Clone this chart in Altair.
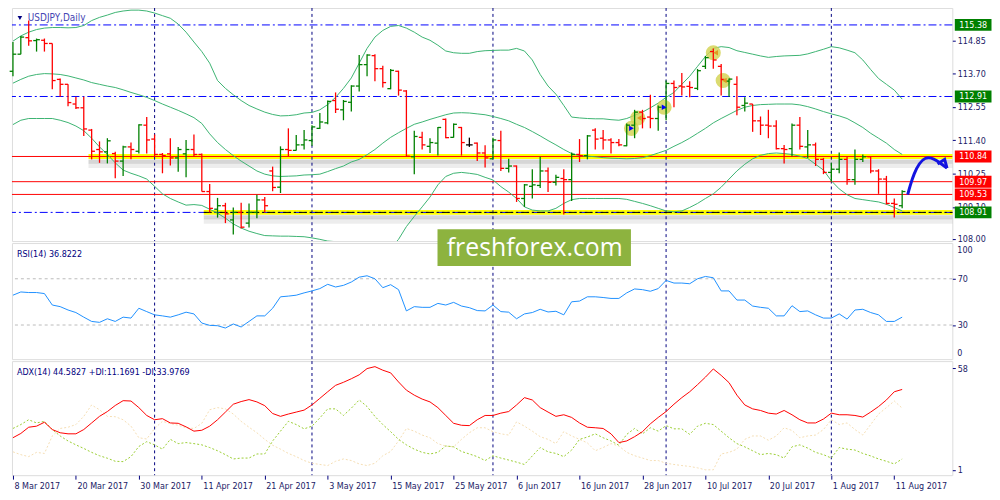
import json
import altair as alt
import pandas as pd

# ---------------- data ----------------
opens = [113.78, 114.37, 114.94, 114.84, 114.85, 114.74, 113.50, 113.33, 112.65, 112.52,
         111.75, 111.08, 111.00, 110.94, 110.68, 111.17, 111.02, 111.92, 111.44, 110.91,
         110.93, 110.79, 110.93, 111.08, 110.91, 109.63, 109.02, 109.14, 108.65, 108.91,
         108.54, 108.91, 109.34, 110.34, 109.78, 111.08, 111.05, 111.24, 111.39, 111.81,
         112.00, 112.77, 112.45, 112.71, 113.27, 114.01, 114.32, 113.87, 113.18, 113.78,
         113.10, 110.83, 111.50, 111.19, 111.30, 112.12, 111.50, 111.84, 111.24, 111.30,
         110.96, 110.76, 111.39, 110.43, 110.51, 109.39, 109.81, 109.84, 110.34, 109.95,
         110.08, 110.04, 110.91, 110.87, 111.75, 111.47, 111.41, 111.32, 111.21, 111.92,
         112.37, 112.20, 112.15, 112.52, 113.36, 113.27, 113.26, 113.19, 113.95, 114.46,
         113.95, 113.44, 113.33, 112.60, 112.65, 112.07, 111.92, 111.89, 111.11, 111.11,
         111.92, 111.17, 111.24, 110.74, 110.29, 110.40, 110.74, 110.04, 110.74, 110.83,
         110.34, 110.06, 109.22, 109.14]
highs = [114.79, 115.00, 115.53, 114.91, 114.91, 114.74, 113.53, 113.33, 112.90, 112.90,
         111.79, 111.36, 111.47, 111.00, 111.21, 111.32, 111.95, 112.20, 111.60, 110.96,
         111.47, 111.17, 111.41, 111.60, 110.94, 109.89, 109.41, 109.24, 109.08, 109.24,
         109.22, 109.52, 109.44, 110.49, 111.19, 111.81, 111.58, 111.75, 111.92, 112.34,
         112.77, 113.05, 112.79, 113.30, 114.34, 114.37, 114.37, 113.97, 113.86, 113.80,
         113.13, 111.73, 111.69, 111.47, 111.86, 112.15, 111.98, 111.86, 111.49, 111.32,
         111.23, 111.49, 111.73, 110.76, 110.53, 109.89, 110.40, 110.83, 110.46, 110.21,
         110.40, 110.98, 111.44, 111.58, 111.81, 111.75, 111.47, 111.44, 111.98, 112.45,
         112.45, 112.97, 112.60, 113.46, 113.46, 113.72, 113.44, 113.86, 114.31, 114.57,
         114.03, 113.53, 113.61, 112.88, 112.65, 112.22, 112.45, 112.09, 111.24, 111.98,
         112.20, 111.75, 111.32, 110.79, 110.62, 110.98, 110.83, 111.08, 110.91, 110.85,
         110.40, 110.17, 109.39, 109.67]
lows = [113.61, 114.37, 114.66, 114.46, 114.46, 113.16, 112.90, 112.57, 112.48, 111.55,
        110.74, 110.62, 110.60, 110.09, 110.17, 110.74, 110.94, 110.94, 110.85, 110.26,
        110.53, 110.31, 110.12, 110.83, 109.63, 108.91, 108.73, 108.54, 108.15, 108.35,
        108.39, 108.71, 108.91, 109.64, 109.58, 110.85, 111.05, 111.08, 111.21, 111.79,
        111.95, 112.34, 112.09, 112.39, 113.08, 113.61, 113.44, 113.22, 113.16, 112.94,
        110.83, 110.23, 111.08, 110.96, 110.87, 111.47, 111.49, 110.87, 111.17, 110.68,
        110.46, 110.74, 110.34, 110.29, 109.27, 109.10, 109.39, 109.75, 109.61, 109.84,
        108.84, 109.30, 110.65, 110.74, 111.08, 111.08, 110.94, 111.19, 111.19, 111.47,
        111.81, 111.81, 111.73, 112.09, 112.54, 112.94, 112.88, 113.13, 113.86, 113.87,
        112.94, 112.90, 112.26, 112.39, 111.69, 111.58, 111.47, 111.08, 110.60, 110.85,
        111.08, 110.79, 110.51, 110.23, 109.98, 110.26, 109.86, 109.86, 110.65, 110.26,
        109.55, 109.18, 108.73, 109.05]
closes = [114.37, 114.96, 114.83, 114.87, 114.74, 113.46, 113.33, 112.70, 112.52, 111.79,
          111.02, 111.00, 111.38, 110.68, 111.17, 111.08, 111.93, 111.41, 110.91, 110.87,
          110.79, 111.08, 111.08, 110.91, 109.63, 109.05, 109.14, 108.86, 108.91, 108.40,
          108.91, 109.34, 109.14, 109.77, 111.08, 111.05, 111.24, 111.41, 111.86, 112.03,
          112.74, 112.47, 112.74, 113.27, 114.01, 114.34, 113.87, 113.39, 113.81, 113.13,
          110.85, 111.53, 111.24, 111.32, 111.84, 111.49, 111.95, 111.32, 111.24, 110.96,
          110.79, 111.41, 110.43, 110.51, 109.39, 109.86, 109.86, 110.34, 109.95, 110.12,
          110.04, 110.91, 110.87, 111.55, 111.44, 111.41, 111.32, 111.24, 111.92, 112.37,
          112.15, 112.15, 112.54, 113.36, 113.22, 113.24, 113.22, 113.80, 114.25, 114.17,
          113.50, 113.51, 112.54, 112.68, 112.07, 111.92, 111.89, 111.11, 111.08, 111.92,
          111.19, 111.24, 110.74, 110.29, 110.40, 110.74, 110.04, 110.74, 110.83, 110.34,
          110.06, 109.22, 109.19, 109.63]

bb_upper = [114.82, 115.00, 115.13, 115.22, 115.27, 115.29, 115.29, 115.28, 115.29, 115.36,
            115.53, 115.64, 115.72, 115.81, 115.86, 115.89, 115.89, 115.86, 115.79, 115.70,
            115.61, 115.41, 115.13, 114.79, 114.46, 114.06, 113.46, 113.19, 112.97, 112.77,
            112.60, 112.48, 112.37, 112.29, 112.24, 112.25, 112.28, 112.34, 112.36, 112.45,
            112.63, 112.88, 113.19, 113.55, 114.06, 114.57, 114.96, 115.19, 115.33, 115.36,
            115.27, 115.13, 114.96, 114.85, 114.68, 114.48, 114.42, 114.40, 114.40, 114.46,
            114.49, 114.50, 114.51, 114.51, 114.57, 114.48, 114.17, 113.67, 113.27, 112.99,
            112.60, 112.20, 112.17, 112.15, 112.14, 112.14, 112.11, 112.09, 112.15, 112.26,
            112.37, 112.52, 112.68, 112.88, 113.05, 113.33, 113.61, 113.95, 114.29, 114.57,
            114.63, 114.60, 114.49, 114.43, 114.37, 114.31, 114.26, 114.29, 114.31, 114.32,
            114.33, 114.38, 114.46, 114.54, 114.63, 114.59, 114.51, 114.42, 114.17, 113.84,
            113.53, 113.33, 113.13, 112.82]
bb_mid = [113.37, 113.50, 113.61, 113.67, 113.70, 113.69, 113.67, 113.62, 113.55, 113.48,
          113.39, 113.33, 113.27, 113.22, 113.14, 113.05, 112.97, 112.88, 112.77, 112.65,
          112.54, 112.43, 112.31, 112.18, 111.98, 111.62, 111.32, 111.08, 110.87, 110.68,
          110.51, 110.34, 110.23, 110.17, 110.15, 110.16, 110.17, 110.20, 110.21, 110.23,
          110.32, 110.42, 110.51, 110.65, 110.74, 110.90, 111.08, 111.30, 111.50, 111.66,
          111.81, 111.95, 112.03, 112.12, 112.20, 112.28, 112.34, 112.35, 112.34, 112.31,
          112.28, 112.22, 112.15, 112.07, 111.95, 111.84, 111.70, 111.55, 111.39, 111.24,
          111.08, 110.94, 110.87, 110.85, 110.83, 110.80, 110.78, 110.77, 110.76, 110.77,
          110.80, 110.87, 110.96, 111.05, 111.19, 111.32, 111.47, 111.64, 111.81, 112.00,
          112.15, 112.29, 112.43, 112.54, 112.60, 112.63, 112.64, 112.65, 112.65, 112.65,
          112.62, 112.56, 112.48, 112.39, 112.31, 112.24, 112.15, 112.00, 111.84, 111.64,
          111.47, 111.30, 111.08, 110.91]
bb_lower = [111.94, 112.09, 112.15, 112.15, 112.15, 112.15, 112.09, 112.01, 111.89, 111.73,
            111.47, 111.17, 110.91, 110.62, 110.37, 110.26, 110.17, 110.06, 109.81, 109.55,
            109.39, 109.27, 109.16, 109.18, 109.15, 109.02, 108.88, 108.71, 108.51, 108.37,
            108.26, 108.18, 108.11, 108.10, 108.09, 108.09, 108.08, 108.07, 108.03, 107.98,
            107.92, 107.90, 107.82, 107.72, 107.45, 107.25, 107.20, 107.40, 107.68, 107.98,
            108.42, 108.77, 109.10, 109.44, 109.86, 110.15, 110.26, 110.29, 110.26, 110.22,
            110.12, 110.03, 109.80, 109.61, 109.39, 109.10, 108.99, 108.96, 108.96, 109.05,
            109.22, 109.35, 109.39, 109.39, 109.39, 109.39, 109.39, 109.39, 109.36, 109.29,
            109.22, 109.14, 109.05, 108.96, 108.93, 108.96, 109.08, 109.22, 109.39, 109.55,
            109.78, 110.06, 110.34, 110.57, 110.76, 110.88, 110.94, 110.96, 110.94, 110.91,
            110.85, 110.77, 110.57, 110.37, 110.00, 109.72, 109.52, 109.39, 109.35, 109.31,
            109.27, 109.19, 109.08, 108.96]

rsi = [55.8, 58.6, 58.1, 58.1, 57.2, 47.3, 45.9, 43.0, 40.8, 36.8,
       33.1, 32.3, 35.4, 33.1, 36.8, 36.0, 44.5, 41.6, 38.8, 37.9,
       36.8, 38.8, 41.1, 39.6, 31.7, 29.7, 29.4, 27.4, 30.9, 28.3,
       33.1, 37.9, 37.9, 44.5, 54.4, 55.0, 55.8, 57.8, 59.5, 61.5,
       65.2, 62.9, 64.3, 67.2, 71.4, 72.6, 70.0, 62.3, 64.9, 60.6,
       42.2, 45.9, 45.3, 45.3, 48.7, 47.3, 49.6, 46.4, 45.0, 42.5,
       42.2, 47.3, 41.6, 41.1, 35.4, 39.6, 40.8, 43.6, 41.3, 41.9,
       38.8, 50.1, 50.7, 54.4, 54.4, 53.8, 53.0, 53.0, 57.8, 61.2,
       60.6, 59.2, 61.5, 68.6, 66.3, 66.3, 65.7, 70.0, 72.0, 70.9,
       59.5, 59.5, 51.6, 51.6, 46.4, 45.3, 44.5, 37.9, 37.9, 46.7,
       41.6, 42.2, 38.8, 36.0, 36.0, 39.6, 35.1, 43.0, 43.6, 40.8,
       38.8, 33.1, 33.1, 36.8]

adx = [19.0, 21.4, 24.9, 25.5, 27.7, 23.6, 21.8, 21.2, 21.2, 23.6,
       27.3, 31.0, 33.7, 37.1, 39.8, 39.6, 35.9, 31.5, 29.1, 29.7,
       27.3, 27.1, 25.1, 22.7, 23.2, 25.5, 29.1, 33.4, 37.8, 39.3,
       40.4, 39.1, 37.0, 32.6, 31.0, 32.3, 33.4, 34.5, 37.4, 41.1,
       44.8, 48.4, 50.1, 52.1, 54.3, 57.8, 58.9, 56.9, 55.4, 50.3,
       45.7, 42.9, 40.7, 39.1, 35.9, 31.5, 27.1, 26.0, 25.8, 29.1,
       31.5, 31.5, 32.8, 33.7, 37.4, 41.5, 40.2, 35.9, 33.4, 31.0,
       31.9, 30.4, 27.3, 24.9, 24.6, 24.2, 21.2, 16.3, 17.2, 19.6,
       22.4, 26.8, 30.4, 33.7, 37.8, 41.5, 44.8, 48.8, 53.0, 57.6,
       54.0, 49.9, 42.9, 37.4, 35.2, 34.3, 32.8, 32.3, 34.3, 31.9,
       29.1, 27.3, 27.3, 29.5, 32.8, 31.9, 31.9, 31.5, 30.6, 33.4,
       36.5, 40.2, 44.8, 46.1]
plus_di = [24.2, 26.4, 29.1, 27.3, 28.2, 23.6, 20.0, 17.2, 15.0, 13.0,
           10.8, 8.9, 7.5, 5.8, 5.6, 8.4, 14.1, 16.8, 15.0, 12.6,
           18.1, 15.7, 16.3, 15.7, 15.0, 13.5, 11.7, 9.5, 7.1, 7.6,
           7.6, 9.9, 9.9, 17.2, 22.7, 28.2, 26.4, 24.0, 25.5, 30.1,
           35.2, 35.2, 31.5, 35.6, 40.2, 36.5, 31.0, 26.4, 22.4, 18.1,
           15.0, 12.6, 10.8, 9.9, 10.8, 14.4, 13.9, 11.3, 9.9, 8.4,
           6.2, 8.9, 7.6, 6.5, 5.3, 4.0, 8.8, 13.5, 11.1, 10.2,
           8.4, 12.1, 18.1, 19.4, 21.2, 19.0, 17.2, 14.8, 20.9, 24.2,
           21.2, 24.6, 22.7, 25.8, 24.0, 24.0, 20.9, 25.5, 27.1, 26.4,
           22.7, 19.0, 15.7, 13.9, 11.7, 9.5, 10.2, 9.5, 7.6, 13.9,
           15.0, 13.2, 10.8, 9.5, 7.6, 13.5, 12.6, 12.1, 10.2, 8.8,
           7.1, 5.8, 4.3, 7.1]
minus_di = [11.1, 9.5, 8.4, 10.8, 10.2, 20.0, 24.2, 24.9, 26.4, 31.0,
            37.4, 34.7, 31.0, 30.8, 29.1, 25.5, 19.0, 18.3, 24.2, 28.2,
            27.0, 26.0, 24.6, 24.2, 27.1, 34.7, 35.9, 35.2, 32.3, 28.2,
            24.9, 21.8, 18.1, 14.8, 12.6, 10.2, 8.4, 6.2, 4.7, 4.0,
            3.4, 5.8, 7.1, 6.2, 4.3, 3.4, 4.7, 8.9, 11.3, 17.2,
            24.2, 22.7, 20.5, 19.0, 15.7, 14.3, 13.9, 18.1, 21.8, 24.6,
            24.6, 22.4, 21.2, 20.5, 27.9, 25.5, 22.7, 19.6, 18.1, 15.7,
            22.4, 20.0, 18.1, 16.1, 11.7, 13.5, 15.7, 14.4, 10.8, 8.9,
            7.6, 6.2, 6.2, 4.7, 4.0, 3.4, 2.9, 2.1, 1.0, 1.0,
            9.9, 10.8, 12.6, 18.1, 20.0, 20.0, 17.6, 20.0, 24.6, 23.1,
            19.0, 20.0, 20.5, 23.6, 29.1, 26.4, 27.3, 23.6, 20.5, 26.4,
            32.3, 35.9, 39.6, 35.6]

date_labels = ["8 Mar 2017", "20 Mar 2017", "30 Mar 2017", "11 Apr 2017", "21 Apr 2017",
               "3 May 2017", "15 May 2017", "25 May 2017", "6 Jun 2017", "16 Jun 2017",
               "28 Jun 2017", "10 Jul 2017", "20 Jul 2017", "1 Aug 2017", "11 Aug 2017"]
date_label_idx = [0, 8, 16, 24, 32, 40, 48, 56, 64, 72, 80, 88, 96, 104, 112]
month_start_idx = [18, 38, 61, 83, 104]

price_ticks = [114.85, 113.70, 112.55, 111.40, 110.25, 109.10, 108.00]
blue_levels = [115.38, 112.91, 108.91]
red_levels = [110.84, 109.97, 109.53]
highlight_levels = [110.84, 108.91]
highlight_start = [9.6, 24.25]
highlight_end = [119.4, 119.4]

# trade markers (bar index, price)
circle_idx = [78.6, 79.4, 82.75, 89.0, 90.25]
circle_price = [111.81, 112.17, 112.54, 114.42, 113.46]
buy_idx = [78.6, 82.75]
buy_price = [111.81, 112.54]
close_idx = [79.6, 89.3, 90.4]
close_price = [112.17, 114.42, 113.46]
# hand-drawn forecast arrow
arrow_idx = [113.7, 114.0, 114.5, 115.2, 115.9, 116.7, 117.4, 118.1, 118.7]
arrow_price = [109.52, 109.82, 110.25, 110.62, 110.80, 110.80, 110.70, 110.56, 110.44]
arrowhead_idx = [117.5, 118.7, 118.4]
arrowhead_price = [110.58, 110.44, 110.74]

title_main = "USDJPY,Daily"
title_rsi = "RSI(14) 36.8222"
title_adx = "ADX(14) 44.5827 +DI:11.1691 -DI:33.9769"
watermark = "freshforex.com"

# ---------------- layout ----------------
W = 948
H1, H2, H3 = 235, 117, 115
NAVY = "#000080"
LBL = "#1A1A66"
FONT = "DejaVu Sans Condensed, Liberation Sans, sans-serif"
FS = 9

n = len(closes)
xs = alt.Scale(domain=[-0.125, 119.375], nice=False, zero=False)
ys1 = alt.Scale(domain=[107.92, 115.965], nice=False, zero=False)
ys2 = alt.Scale(domain=[0.5, 100.9], nice=False, zero=False)
ys3 = alt.Scale(domain=[-2.0, 62.0], nice=False, zero=False)

ax_common = dict(orient="right", domain=False, grid=False, title=None, tickSize=3,
                 tickColor=NAVY, labelColor=LBL, labelFont=FONT, labelFontSize=FS,
                 labelPadding=2, labelOverlap=False)
yax1 = alt.Axis(values=price_ticks, format=".2f", **ax_common)
yax2 = alt.Axis(values=[30, 70], format="d", **ax_common)
yax3 = alt.Axis(values=[1, 58], format="d", **ax_common)

lab_expr = "[" + ",".join(json.dumps(s) for s in date_labels) + "][indexof(" + json.dumps(date_label_idx) + ", datum.value)]"
xax3 = alt.Axis(orient="bottom", values=date_label_idx, labelExpr=lab_expr, domain=False, grid=False,
                title=None, tickSize=4, tickColor=NAVY, labelColor=LBL, labelFont=FONT,
                labelFontSize=FS, labelAlign="left", labelBaseline="top", labelPadding=2,
                labelOffset=1, labelOverlap=False, labelBound=False)


def X(f, ax=None):
    return alt.X(f, type="quantitative", scale=xs, axis=ax)


def Y1(f):
    return alt.Y(f, type="quantitative", scale=ys1, axis=yax1)


bars = pd.DataFrame({"i": list(range(n)), "o": opens, "h": highs, "l": lows, "c": closes})
bars["dir"] = ["up" if c > o else ("down" if c < o else "flat") for o, c in zip(opens, closes)]
bar_color = alt.Color("dir:N", scale=alt.Scale(domain=["up", "down", "flat"],
                                               range=["#008000", "#FF0000", "#000000"]), legend=None)

bands = pd.DataFrame({"i": list(range(n)) * 3, "v": bb_upper + bb_mid + bb_lower,
                      "band": ["upper"] * n + ["mid"] * n + ["lower"] * n})
months = pd.DataFrame({"i": month_start_idx})
hl = pd.DataFrame({"v": highlight_levels, "x0": highlight_start, "x1": highlight_end})
bl = pd.DataFrame({"v": blue_levels})
rl = pd.DataFrame({"v": red_levels})
boxes = pd.DataFrame({"v": blue_levels + red_levels,
                      "kind": ["blue"] * len(blue_levels) + ["red"] * len(red_levels)})
circles = pd.DataFrame({"i": circle_idx, "v": circle_price})
buys = pd.DataFrame({"i": buy_idx, "v": buy_price})
closes_m = pd.DataFrame({"i": close_idx, "v": close_price})
arrow = pd.DataFrame({"i": arrow_idx, "v": arrow_price})
ahead = pd.DataFrame({"i": arrowhead_idx, "v": arrowhead_price})
one = pd.DataFrame({"t": [title_main]})

vgrid = alt.Chart(months).mark_rule(color=NAVY, strokeDash=[3, 3], strokeWidth=1).encode(x=X("i"))

main_layers = [
    alt.Chart(hl).mark_rule(color="#000000", opacity=0.16, strokeWidth=4, yOffset=5).encode(
        x=X("x0"), x2="x1", y=Y1("v")),
    alt.Chart(hl).mark_rule(color="#000000", opacity=0.07, strokeWidth=5, yOffset=9).encode(
        x=X("x0"), x2="x1", y=Y1("v")),
    alt.Chart(hl).mark_rule(color="#FFFF00", strokeWidth=5).encode(x=X("x0"), x2="x1", y=Y1("v")),
    vgrid,
    alt.Chart(bl).mark_rule(color="#0000FF", strokeDash=[8, 3, 2, 3], strokeWidth=1).encode(y=Y1("v")),
    alt.Chart(rl).mark_rule(color="#FF0000", strokeWidth=1).encode(y=Y1("v")),
    alt.Chart(hl.iloc[[1]]).mark_rule(color="#000000", strokeDash=[8, 3, 2, 3], strokeWidth=1).encode(
        x=X("x0"), x2="x1", y=Y1("v")),
    alt.Chart(bands).mark_line(color="#3CB371", strokeWidth=1, clip=True).encode(
        x=X("i"), y=Y1("v"), detail="band:N"),
    alt.Chart(circles).mark_circle(size=230, color="#D2D24E", opacity=0.8).encode(x=X("i"), y=Y1("v")),
    alt.Chart(bars).mark_rule(strokeWidth=1.3).encode(x=X("i"), y=Y1("l"), y2="h", color=bar_color),
    alt.Chart(bars).transform_calculate(xo="datum.i - 0.42").mark_rule(strokeWidth=1.3).encode(
        x=X("xo:Q"), x2="i:Q", y=Y1("o"), color=bar_color),
    alt.Chart(bars).transform_calculate(xc="datum.i + 0.42").mark_rule(strokeWidth=1.3).encode(
        x=X("i:Q"), x2="xc:Q", y=Y1("c"), color=bar_color),
    alt.Chart(buys).mark_point(shape="triangle-right", size=30, filled=True, color="#0000FF", opacity=1).encode(
        x=X("i"), y=Y1("v")),
    alt.Chart(closes_m).mark_point(shape="triangle-left", size=30, filled=True, color="#E09A20", opacity=1).encode(
        x=X("i"), y=Y1("v")),
    alt.Chart(arrow).mark_line(color="#1414E0", strokeWidth=3, interpolate="basis", clip=False).encode(
        x=X("i"), y=Y1("v")),
    alt.Chart(ahead).mark_line(color="#1414E0", strokeWidth=3, clip=False).encode(x=X("i"), y=Y1("v")),
    alt.Chart(boxes).mark_tick(orient="horizontal", size=37, thickness=12, opacity=1).encode(
        x=alt.value(W + 21), y=Y1("v"),
        color=alt.Color("kind:N", scale=alt.Scale(domain=["blue", "red"], range=["#0000FF", "#FF0000"]),
                        legend=None)),
    alt.Chart(boxes).mark_text(color="white", fontSize=FS, font=FONT, align="center", baseline="middle").encode(
        x=alt.value(W + 21), y=Y1("v"), text=alt.Text("v:Q", format=".2f")),
    alt.Chart(one).mark_point(shape="triangle-down", size=22, filled=True, color=NAVY, opacity=1).encode(
        x=alt.value(8), y=alt.value(10)),
    alt.Chart(one).mark_text(color="#4646B4", fontSize=FS + 1, font=FONT, align="left", baseline="middle").encode(
        x=alt.value(16), y=alt.value(10), text="t:N"),
]
main = alt.layer(*main_layers).properties(width=W, height=H1)

# RSI panel
rsi_df = pd.DataFrame({"i": list(range(n)), "v": rsi})
rsi_lv = pd.DataFrame({"v": [30, 70]})
rsi_ends = pd.DataFrame({"v": [100, 0], "t": ["100", "0"]})
wm = pd.DataFrame({"t": [watermark]})
rt = pd.DataFrame({"t": [title_rsi]})
Y2 = lambda f: alt.Y(f, type="quantitative", scale=ys2, axis=yax2)
rsi_layers = [
    vgrid,
    alt.Chart(rsi_lv).mark_rule(color="#BBBBBB", strokeDash=[3, 3], strokeWidth=1).encode(y=Y2("v")),
    alt.Chart(rsi_df).mark_line(color="#1E90FF", strokeWidth=1).encode(x=X("i"), y=Y2("v")),
    alt.Chart(rsi_ends.iloc[[0]]).mark_text(color=LBL, fontSize=FS, font=FONT, align="left", baseline="middle", dy=6).encode(
        x=alt.value(W + 5), y=Y2("v"), text="t:N"),
    alt.Chart(rsi_ends.iloc[[1]]).mark_text(color=LBL, fontSize=FS, font=FONT, align="left", baseline="middle", dy=-7).encode(
        x=alt.value(W + 5), y=Y2("v"), text="t:N"),
    alt.Chart(rt).mark_text(color=NAVY, fontSize=FS, font=FONT, align="left", baseline="middle").encode(
        x=alt.value(5), y=alt.value(11), text="t:N"),
    alt.Chart(wm).mark_rect(color="#8DB33F", clip=False).encode(
        x=alt.value(429), x2=alt.value(624), y=alt.value(-14), y2=alt.value(23)),
    alt.Chart(wm).mark_text(color="white", fontSize=25, font="Open Sans", align="center", baseline="middle").encode(
        x=alt.value(527), y=alt.value(5), text="t:N"),
]
rsi_panel = alt.layer(*rsi_layers).properties(width=W, height=H2)

# ADX panel
adx_df = pd.DataFrame({"i": list(range(n)), "adx": adx, "pdi": plus_di, "mdi": minus_di})
at = pd.DataFrame({"t": [title_adx]})
Y3 = lambda f: alt.Y(f, type="quantitative", scale=ys3, axis=yax3)
adx_layers = [
    alt.Chart(months).mark_rule(color=NAVY, strokeDash=[3, 3], strokeWidth=1).encode(x=X("i", xax3)),
    alt.Chart(adx_df).mark_line(color="#F5DEB3", strokeDash=[2, 2], strokeWidth=1).encode(x=X("i", xax3), y=Y3("mdi")),
    alt.Chart(adx_df).mark_line(color="#9ACD32", strokeDash=[2, 2], strokeWidth=1).encode(x=X("i", xax3), y=Y3("pdi")),
    alt.Chart(adx_df).mark_line(color="#FF0000", strokeWidth=1).encode(x=X("i", xax3), y=Y3("adx")),
    alt.Chart(at).mark_text(color=NAVY, fontSize=FS, font=FONT, align="left", baseline="middle").encode(
        x=alt.value(5), y=alt.value(11), text="t:N"),
]
adx_panel = alt.layer(*adx_layers).properties(width=W, height=H3)

chart = alt.vconcat(main, rsi_panel, adx_panel, spacing=2, bounds="flush").properties(
    padding={"left": 0, "top": -3, "right": 0, "bottom": 0}
).configure_view(stroke=NAVY, strokeWidth=1).configure(background="white")

chart.save("out.html", embed_options={"renderer": "svg", "actions": False})
